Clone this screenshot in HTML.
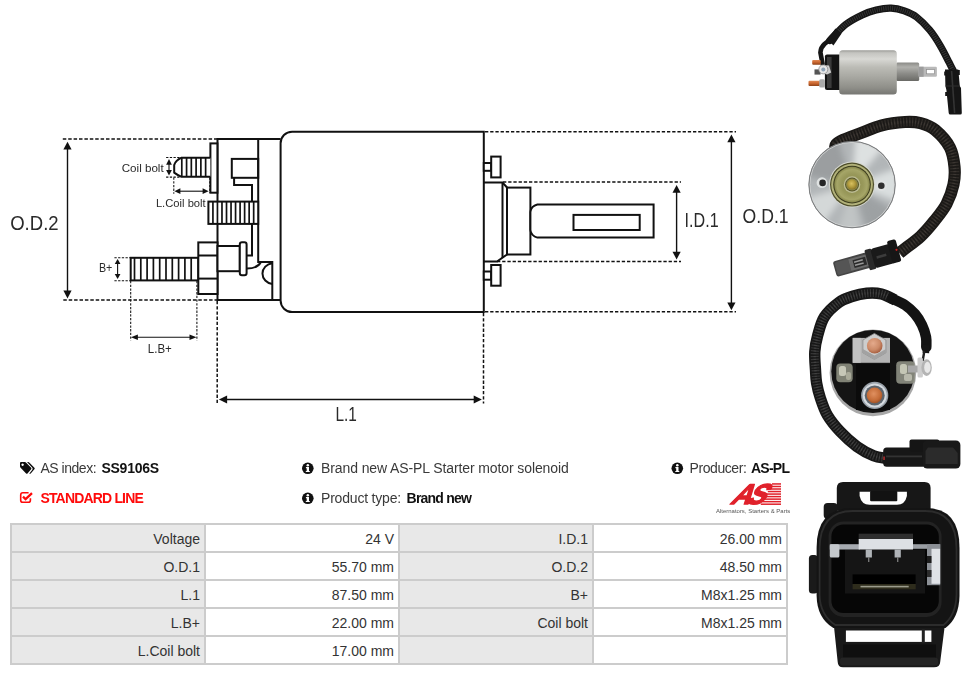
<!DOCTYPE html>
<html lang="en">
<head>
<meta charset="utf-8">
<title>SS9106S - AS-PL Starter motor solenoid</title>
<style>
*{box-sizing:border-box;margin:0;padding:0}
html,body{width:970px;height:675px;background:#fff;overflow:hidden}
body{position:relative;font-family:"Liberation Sans",sans-serif;color:#333;font-size:14px}
.diagram{position:absolute;left:0;top:0;will-change:transform}
.photos{position:absolute;left:800px;top:0}
.infosvg{position:absolute;left:0;top:450px;will-change:transform}
table.spec{position:absolute;left:10px;top:523px;width:778px;border-collapse:separate;border-spacing:0;table-layout:fixed;border-left:2px solid #ccc;border-top:2px solid #ccc}
table.spec td{height:28px;border-right:2px solid #ccc;border-bottom:2px solid #ccc;text-align:right;padding:2px 4px 0 0;font-size:14px;color:#333;width:194px;background:#fff;line-height:24px;vertical-align:top;white-space:nowrap;overflow:hidden}
table.spec td.l{background:#e8e8e8}
</style>
</head>
<body>
<svg class="diagram" width="800" height="440" viewBox="0 0 800 440">
<g fill="none" stroke="#111" stroke-width="2" stroke-linejoin="miter">
<g stroke-width="1.7" stroke-dasharray="3.5 1.9">
<line x1="62.8" y1="139" x2="217" y2="139"/>
<line x1="63.3" y1="300" x2="217" y2="300"/>
</g>
<g stroke-width="1.5" stroke-dasharray="3.3 1.9">
<line x1="217.2" y1="301" x2="217.2" y2="403.5"/>
<line x1="483.5" y1="313" x2="483.5" y2="403.6"/>
<line x1="485" y1="131.8" x2="736" y2="131.8"/>
<line x1="485" y1="311.8" x2="736" y2="311.8"/>
<line x1="503" y1="182" x2="681" y2="182"/>
<line x1="497" y1="261.6" x2="681" y2="261.6"/>
</g>
<g stroke-width="1.05" stroke-dasharray="2.3 1.4">
<line x1="166.1" y1="157.5" x2="181" y2="157.5"/>
<line x1="166.1" y1="177.1" x2="181" y2="177.1"/>
<line x1="173.8" y1="177.5" x2="173.8" y2="193.7"/>
<line x1="209.8" y1="177.5" x2="209.8" y2="193"/>
<line x1="114.4" y1="257.7" x2="130.5" y2="257.7"/>
<line x1="114.4" y1="280.8" x2="130.5" y2="280.8"/>
<line x1="130.7" y1="281" x2="130.7" y2="340.5"/>
<line x1="196.9" y1="281" x2="196.9" y2="340.5"/>
</g>
<path d="M483.8 131.7 H292.1 A11.5 11.5 0 0 0 280.6 143.2 V300.6 A11.5 11.5 0 0 0 292.1 312.1 H483.8 Z" fill="#fff"/>
<path d="M280.6 139.1 H217.5 V299.9 H280.6"/>
<path d="M258.2 139.1 V262 H272.3 V299.9"/>
<path d="M272.3 263.2 A10.9 10.4 0 0 0 272.3 283.9"/>
<rect x="210.4" y="143.4" width="7" height="49.3" fill="#fff"/>
<path d="M210.4 157.7 H181.6 Q175.5 160.5 174.2 165 V172.6 Q177 174.8 181.6 176.8 H210.4" fill="#fff"/>
<g stroke-width="1.7">
<line x1="181.8" y1="157.8" x2="181.8" y2="176.7"/>
<line x1="186.57" y1="157.8" x2="186.57" y2="176.7"/>
<line x1="191.33" y1="157.8" x2="191.33" y2="176.7"/>
<line x1="196.10" y1="157.8" x2="196.10" y2="176.7"/>
<line x1="200.87" y1="157.8" x2="200.87" y2="176.7"/>
<line x1="205.63" y1="157.8" x2="205.63" y2="176.7"/>
</g>
<rect x="231.8" y="158.9" width="26.4" height="18.9"/>
<path d="M234.1 177.8 V185 H252 V255.5 H246.6"/>
<rect x="208.4" y="201.6" width="49.8" height="22.3" fill="#fff"/>
<g stroke-width="1.7">
<line x1="212.93" y1="201.6" x2="212.93" y2="223.9"/>
<line x1="217.45" y1="201.6" x2="217.45" y2="223.9"/>
<line x1="221.98" y1="201.6" x2="221.98" y2="223.9"/>
<line x1="226.51" y1="201.6" x2="226.51" y2="223.9"/>
<line x1="231.04" y1="201.6" x2="231.04" y2="223.9"/>
<line x1="235.56" y1="201.6" x2="235.56" y2="223.9"/>
<line x1="240.09" y1="201.6" x2="240.09" y2="223.9"/>
<line x1="244.62" y1="201.6" x2="244.62" y2="223.9"/>
<line x1="249.15" y1="201.6" x2="249.15" y2="223.9"/>
<line x1="253.67" y1="201.6" x2="253.67" y2="223.9"/>
</g>
<rect x="130.7" y="257.8" width="67.6" height="22.6" fill="#fff"/>
<g stroke-width="1.7">
<line x1="134.50" y1="257.8" x2="134.50" y2="280.4"/>
<line x1="140.80" y1="257.8" x2="140.80" y2="280.4"/>
<line x1="147.10" y1="257.8" x2="147.10" y2="280.4"/>
<line x1="153.40" y1="257.8" x2="153.40" y2="280.4"/>
<line x1="159.70" y1="257.8" x2="159.70" y2="280.4"/>
<line x1="166.00" y1="257.8" x2="166.00" y2="280.4"/>
<line x1="172.30" y1="257.8" x2="172.30" y2="280.4"/>
<line x1="178.60" y1="257.8" x2="178.60" y2="280.4"/>
<line x1="184.90" y1="257.8" x2="184.90" y2="280.4"/>
<line x1="191.20" y1="257.8" x2="191.20" y2="280.4"/>
</g>
<rect x="198.3" y="242.4" width="19.2" height="51.6" fill="#fff"/>
<line x1="198.3" y1="255.5" x2="217.5" y2="255.5"/>
<line x1="198.3" y1="278.6" x2="217.5" y2="278.6"/>
<rect x="217.5" y="246" width="22.3" height="25.2" fill="#fff"/>
<rect x="239.8" y="242.2" width="6.8" height="33.1" rx="2.2" fill="#fff"/>
<path d="M246.6 268.5 Q257.5 268.6 261 262"/>
<rect x="483.8" y="163" width="7.4" height="7.8" fill="#fff"/>
<rect x="491.2" y="156.6" width="9.4" height="20.8" fill="#fff"/>
<rect x="483.8" y="271.5" width="7.4" height="8.2" fill="#fff"/>
<rect x="491.2" y="265" width="9.4" height="20.7" fill="#fff"/>
<path d="M483.8 182.6 H502.5 L507 187.5 V254.5 L497 261.5 H483.8"/>
<line x1="502.5" y1="182.6" x2="502.5" y2="258"/>
<rect x="507" y="187.6" width="23.4" height="66.9" fill="#fff"/>
<path d="M653.6 204.5 H537.4 Q531 206 530.4 212 V230 Q531 236 537.4 237.6 H653.6 Z" fill="#fff"/>
<rect x="573.5" y="214.9" width="66.2" height="15.1"/>
</g>
<line x1="67.5" y1="148.60000000000002" x2="67.5" y2="291.59999999999997" stroke="#111" stroke-width="1.4"/><polygon points="67.5,141.8 63.4,149.60000000000002 71.6,149.60000000000002" fill="#111" stroke="none"/><polygon points="67.5,298.4 63.4,290.59999999999997 71.6,290.59999999999997" fill="#111" stroke="none"/>
<line x1="731.4" y1="141.20000000000002" x2="731.4" y2="303.5" stroke="#111" stroke-width="1.4"/><polygon points="731.4,134.4 727.3,142.20000000000002 735.5,142.20000000000002" fill="#111" stroke="none"/><polygon points="731.4,310.3 727.3,302.5 735.5,302.5" fill="#111" stroke="none"/>
<line x1="676.6" y1="191.70000000000002" x2="676.6" y2="252.7" stroke="#111" stroke-width="1.4"/><polygon points="676.6,184.9 672.5,192.70000000000002 680.7,192.70000000000002" fill="#111" stroke="none"/><polygon points="676.6,259.5 672.5,251.7 680.7,251.7" fill="#111" stroke="none"/>
<line x1="226.1" y1="399.5" x2="474.7" y2="399.5" stroke="#111" stroke-width="1.4"/><polygon points="218.9,399.5 227.1,395.5 227.1,403.5" fill="#111" stroke="none"/><polygon points="481.9,399.5 473.7,395.5 473.7,403.5" fill="#111" stroke="none"/>
<line x1="136.9" y1="337.3" x2="190.5" y2="337.3" stroke="#111" stroke-width="1.1"/><polygon points="130.9,337.3 137.9,334.5 137.9,340.1" fill="#111" stroke="none"/><polygon points="196.5,337.3 189.5,334.5 189.5,340.1" fill="#111" stroke="none"/>
<line x1="179.4" y1="191.2" x2="203.6" y2="191.2" stroke="#111" stroke-width="1.1"/><polygon points="174.4,191.2 180.4,188.29999999999998 180.4,194.1" fill="#111" stroke="none"/><polygon points="208.6,191.2 202.6,188.29999999999998 202.6,194.1" fill="#111" stroke="none"/>
<line x1="169" y1="163.7" x2="169" y2="170.9" stroke="#111" stroke-width="1.1"/><polygon points="169,159.1 166.1,164.7 171.9,164.7" fill="#111" stroke="none"/><polygon points="169,175.5 166.1,169.9 171.9,169.9" fill="#111" stroke="none"/>
<line x1="117.6" y1="263.1" x2="117.6" y2="275.1" stroke="#111" stroke-width="1.1"/><polygon points="117.6,259.1 114.75,264.1 120.44999999999999,264.1" fill="#111" stroke="none"/><polygon points="117.6,279.1 114.75,274.1 120.44999999999999,274.1" fill="#111" stroke="none"/>
<g font-family="'Liberation Sans', sans-serif" fill="#2a2a2a">
<text x="10.2" y="230.1" font-size="20" textLength="48.4" lengthAdjust="spacingAndGlyphs">O.D.2</text>
<text x="742.6" y="222.6" font-size="19.8" textLength="46" lengthAdjust="spacingAndGlyphs">O.D.1</text>
<text x="684.6" y="227.3" font-size="19.4" textLength="34" lengthAdjust="spacingAndGlyphs">I.D.1</text>
<text x="335.4" y="420.5" font-size="19.6" textLength="21.4" lengthAdjust="spacingAndGlyphs">L.1</text>
<text x="121.7" y="172.2" font-size="11.6" textLength="42" lengthAdjust="spacingAndGlyphs">Coil bolt</text>
<text x="155.9" y="207" font-size="10.8" textLength="49.8" lengthAdjust="spacingAndGlyphs">L.Coil bolt</text>
<text x="98.9" y="272.4" font-size="13.3" textLength="13.4" lengthAdjust="spacingAndGlyphs">B+</text>
<text x="147.8" y="353.3" font-size="12.4" textLength="24" lengthAdjust="spacingAndGlyphs">L.B+</text>
</g>
</svg>
<svg class="infosvg" width="800" height="70" viewBox="0 450 800 70" font-family="'Liberation Sans', sans-serif" font-size="14">
<text x="40.4" y="473" textLength="56.2" lengthAdjust="spacing" fill="#3a3a3a">AS index:</text>
<text x="101.4" y="473" textLength="57.8" lengthAdjust="spacing" fill="#111" font-weight="bold">SS9106S</text>
<text x="40.4" y="502.6" textLength="103.4" lengthAdjust="spacing" fill="#ff0a0a" font-weight="bold">STANDARD LINE</text>
<text x="321" y="473" textLength="247.8" lengthAdjust="spacing" fill="#3a3a3a">Brand new AS-PL Starter motor solenoid</text>
<text x="321" y="502.6" textLength="80.2" lengthAdjust="spacing" fill="#3a3a3a">Product type:</text>
<text x="406.6" y="502.6" textLength="65.2" lengthAdjust="spacing" fill="#111" font-weight="bold">Brand new</text>
<text x="689.6" y="473" textLength="57.2" lengthAdjust="spacing" fill="#3a3a3a">Producer:</text>
<text x="750.9" y="473" textLength="39.1" lengthAdjust="spacing" fill="#111" font-weight="bold">AS-PL</text>
<g transform="translate(307.8,468.3)"><circle r="5.8" fill="#111"/><circle cx="0" cy="-3" r="1.25" fill="#fff"/><path d="M-1.9 -1.3 H1.2 V2.6 H2 V3.8 H-2 V2.6 H-1.1 V-0.1 H-1.9 Z" fill="#fff"/></g>
<g transform="translate(307.8,498.3)"><circle r="5.8" fill="#111"/><circle cx="0" cy="-3" r="1.25" fill="#fff"/><path d="M-1.9 -1.3 H1.2 V2.6 H2 V3.8 H-2 V2.6 H-1.1 V-0.1 H-1.9 Z" fill="#fff"/></g>
<g transform="translate(677.3,468.3)"><circle r="5.8" fill="#111"/><circle cx="0" cy="-3" r="1.25" fill="#fff"/><path d="M-1.9 -1.3 H1.2 V2.6 H2 V3.8 H-2 V2.6 H-1.1 V-0.1 H-1.9 Z" fill="#fff"/></g>
<g transform="translate(20,462) scale(1,1.05)" fill="#0c0c0c"><path d="M0 1 Q0 0 1 0 H4.8 Q5.6 0 6.2 0.6 L11.1 5.5 Q11.8 6.2 11.1 6.9 L7.5 10.9 Q6.8 11.6 6.1 10.9 L0.6 5.5 Q0 4.9 0 4.1 Z M2.6 1.4 A1.2 1.2 0 1 0 2.61 1.4 Z" fill-rule="evenodd"/><path d="M7 0 H8.1 Q8.9 0 9.5 0.6 L14.4 5.4 Q15.2 6.2 14.4 7 L10.7 10.9 Q10 11.6 9.2 11.1 L12.3 7.4 Q13.1 6.3 12.3 5.4 Z"/></g>
<g fill="none" stroke="#ff0a0a"><path d="M28.6 492.8 H22.8 Q20.7 492.8 20.7 494.9 V500.2 Q20.7 502.3 22.8 502.3 H28.3 Q30.4 502.3 30.4 500.2 V498.2" stroke-width="1.6"/><path d="M23 496.6 L25.6 499.2 L32 493.2" stroke-width="2.3"/></g>
<g fill="#e0212b">
<g transform="translate(729.6,504.4) skewX(-33)"><text x="0" y="0" font-size="28.5" font-weight="bold" stroke="#e0212b" stroke-width="1.5" stroke-linejoin="round" letter-spacing="-4.2" textLength="29.5" lengthAdjust="spacingAndGlyphs" fill="#e0212b">AS</text></g>
<rect x="772.0" y="483.20" width="9.0" height="1.5"/>
<rect x="770.6" y="485.73" width="10.4" height="1.5"/>
<rect x="769.2" y="488.26" width="11.8" height="1.5"/>
<rect x="767.8" y="490.79" width="13.2" height="1.5"/>
<rect x="766.4" y="493.32" width="14.6" height="1.5"/>
<rect x="765.0" y="495.85" width="16.0" height="1.5"/>
<rect x="763.6" y="498.38" width="17.4" height="1.5"/>
<rect x="762.2" y="500.91" width="18.8" height="1.5"/>
<rect x="760.8" y="503.44" width="20.2" height="1.5"/>
</g>
<text x="716" y="512.7" font-size="5.9" fill="#555" textLength="74.3" lengthAdjust="spacingAndGlyphs">Alternators, Starters &amp; Parts</text>
</svg>
<table class="spec">
<tr><td class="l">Voltage</td><td>24 V</td><td class="l">I.D.1</td><td>26.00 mm</td></tr>
<tr><td class="l">O.D.1</td><td>55.70 mm</td><td class="l">O.D.2</td><td>48.50 mm</td></tr>
<tr><td class="l">L.1</td><td>87.50 mm</td><td class="l">B+</td><td>M8x1.25 mm</td></tr>
<tr><td class="l">L.B+</td><td>22.00 mm</td><td class="l">Coil bolt</td><td>M8x1.25 mm</td></tr>
<tr><td class="l">L.Coil bolt</td><td>17.00 mm</td><td class="l"></td><td></td></tr>
</table>
<svg class="photos" width="170" height="675" viewBox="800 0 170 675">
<defs>
<linearGradient id="cyl" x1="0" y1="0" x2="0" y2="1">
<stop offset="0" stop-color="#9a9a96"/><stop offset="0.06" stop-color="#c4c4c0"/><stop offset="0.2" stop-color="#d8d8d4"/><stop offset="0.38" stop-color="#bcbcb6"/><stop offset="0.6" stop-color="#a8a8a2"/><stop offset="0.85" stop-color="#8e8e88"/><stop offset="1" stop-color="#767672"/>
</linearGradient>
<linearGradient id="plg" x1="0" y1="0" x2="0" y2="1">
<stop offset="0" stop-color="#8a8a86"/><stop offset="0.25" stop-color="#b0b0ac"/><stop offset="0.6" stop-color="#8c8c88"/><stop offset="1" stop-color="#6a6a66"/>
</linearGradient>
<linearGradient id="copper" x1="0" y1="0" x2="0" y2="1">
<stop offset="0" stop-color="#e08a55"/><stop offset="0.5" stop-color="#c9652e"/><stop offset="1" stop-color="#8e4218"/>
</linearGradient>
<radialGradient id="cu2" cx="0.4" cy="0.35" r="0.7">
<stop offset="0" stop-color="#e4aa8c"/><stop offset="0.6" stop-color="#cc8a68"/><stop offset="1" stop-color="#a0583a"/>
</radialGradient>
<clipPath id="discclip"><circle cx="852.05" cy="184.6" r="42.6"/></clipPath>
<radialGradient id="olive" cx="0.5" cy="0.5" r="0.5">
<stop offset="0" stop-color="#8a8a4a"/><stop offset="0.6" stop-color="#98985a"/><stop offset="0.85" stop-color="#a6a668"/><stop offset="1" stop-color="#86864a"/>
</radialGradient>
<radialGradient id="brass" cx="0.45" cy="0.4" r="0.6">
<stop offset="0" stop-color="#d8c060"/><stop offset="0.6" stop-color="#b09a3c"/><stop offset="1" stop-color="#8a7428"/>
</radialGradient>
<filter id="blur3" x="-20%" y="-20%" width="140%" height="140%"><feGaussianBlur stdDeviation="3"/></filter>
<filter id="blur1" x="-20%" y="-20%" width="140%" height="140%"><feGaussianBlur stdDeviation="0.8"/></filter>
<radialGradient id="cu3" cx="0.45" cy="0.4" r="0.7">
<stop offset="0" stop-color="#e09060"/><stop offset="0.6" stop-color="#c46c38"/><stop offset="1" stop-color="#8e4620"/>
</radialGradient>
</defs>

<g id="photo1">
<!-- cable -->
<path d="M822.6 64 L820.4 52.5 Q820.6 47.5 824.5 44 L831 38.8" fill="none" stroke="#151515" stroke-width="4.6" stroke-linecap="round" stroke-linejoin="round"/>
<path d="M829.8 40.5 C832.4 37.8 840.2 28.8 845.6 24.5 C851.0 20.2 857.1 17.3 862.2 14.9 C867.3 12.5 871.4 11.1 876.2 10.0 C881.0 8.9 886.4 8.0 891.1 8.2 C895.8 8.3 900.1 9.4 904.3 10.9 C908.5 12.4 912.3 13.8 916.5 17.0 C920.7 20.2 925.8 25.3 929.7 30.1 C933.7 34.9 937.0 40.2 940.2 45.6 C943.4 51.0 946.9 58.1 949.0 62.2 C951.1 66.3 952.3 68.7 953.0 70.0" fill="none" stroke="#161616" stroke-width="7.2" stroke-linecap="round"/>
<path d="M829.8 40.5 C832.4 37.8 840.2 28.8 845.6 24.5 C851.0 20.2 857.1 17.3 862.2 14.9 C867.3 12.5 871.4 11.1 876.2 10.0 C881.0 8.9 886.4 8.0 891.1 8.2 C895.8 8.3 900.1 9.4 904.3 10.9 C908.5 12.4 912.3 13.8 916.5 17.0 C920.7 20.2 925.8 25.3 929.7 30.1 C933.7 34.9 937.0 40.2 940.2 45.6 C943.4 51.0 946.9 58.1 949.0 62.2 C951.1 66.3 952.3 68.7 953.0 70.0" fill="none" stroke="#363636" stroke-width="4.6" stroke-dasharray="0.9 1.3"/>
<path d="M827.6 39.2 L835.5 28.6 L841.6 33.6 L833.4 45.6 Z" fill="#161616"/>
<!-- black cap -->
<path d="M824.9 56.4 Q824.9 54.4 827 54.4 H841 V90.1 H827 Q824.9 90.1 824.9 88 Z" fill="#131313"/>
<rect x="827" y="57" width="4.6" height="31" fill="#3a3a3a"/>
<!-- copper bolts -->
<rect x="812.2" y="59.9" width="8.5" height="4.8" rx="1" fill="url(#copper)"/>
<rect x="808.5" y="80.8" width="11.5" height="5.2" rx="1" fill="url(#copper)"/>
<rect x="814.5" y="69.4" width="6" height="5.2" fill="#555"/>
<rect x="819.2" y="79.3" width="5.7" height="8.3" rx="1.5" fill="#aaa"/>
<path d="M821 65 L829 65.5 L831.2 72.5 L827 74.5 L821 73 Z" fill="#cfcfcf"/>
<circle cx="823.3" cy="69.4" r="4.5" fill="#e6e6e6" stroke="#8c8c8c" stroke-width="0.8"/>
<circle cx="823.3" cy="69.4" r="2" fill="#8fa4b8"/>
<!-- plunger -->
<rect x="896" y="62.5" width="23.2" height="18.4" rx="1.5" fill="url(#plg)"/>
<rect x="918.6" y="66.7" width="18.3" height="10.1" rx="1.2" fill="#b9b9b9"/>
<rect x="918.6" y="66.7" width="5" height="10.1" fill="#9c9c9c"/>
<rect x="926.6" y="69.6" width="7.9" height="4.2" fill="#fff" stroke="#8e8e8e" stroke-width="0.7"/>
<!-- body -->
<rect x="839.2" y="50.2" width="57.6" height="44.4" rx="3.5" fill="url(#cyl)"/>
<!-- connector -->
<path d="M945 69.4 H958.3 L959.8 86 L961 88 L961.8 113 Q961.8 114.5 960.3 114.5 H950.3 Q948.8 114.5 948.7 113 L946.4 90 L945.4 86 Z" fill="#151515"/>
<path d="M951.6 71 L954.6 113" stroke="#343434" stroke-width="1.6" fill="none"/>
<path d="M945.6 86 H959.8" stroke="#2e2e2e" stroke-width="1" fill="none"/>
<rect x="944.2" y="71.5" width="2" height="4" fill="#151515"/>
<rect x="945.2" y="92" width="2" height="4" fill="#151515"/>
<rect x="958" y="70" width="1.8" height="5" fill="#151515"/>
</g>

<g id="photo2">
<!-- cable -->
<path d="M838.0 150.0 C831.4 145.8 838.2 142.0 843.2 139.8 C848.2 137.6 852.2 136.3 858.7 133.9 C865.2 131.5 874.2 127.4 881.9 125.4 C889.6 123.4 898.6 122.4 905.0 122.0 C911.4 121.6 915.5 121.8 920.5 123.1 C925.5 124.4 930.3 125.9 935.2 130.0 C940.1 134.1 946.7 141.3 949.9 147.5 C953.1 153.7 953.9 160.7 954.5 166.9 C955.1 173.1 954.8 178.4 953.5 184.6 C952.2 190.8 949.7 197.9 946.5 204.0 C943.3 210.1 938.7 215.5 934.4 220.9 C930.1 226.3 925.8 231.5 920.5 236.4 C915.2 241.3 905.7 248.0 899.5 253.0" fill="none" stroke="#1b1917" stroke-width="12.2" stroke-linecap="butt"/>
<path d="M838.0 150.0 C831.4 145.8 838.2 142.0 843.2 139.8 C848.2 137.6 852.2 136.3 858.7 133.9 C865.2 131.5 874.2 127.4 881.9 125.4 C889.6 123.4 898.6 122.4 905.0 122.0 C911.4 121.6 915.5 121.8 920.5 123.1 C925.5 124.4 930.3 125.9 935.2 130.0 C940.1 134.1 946.7 141.3 949.9 147.5 C953.1 153.7 953.9 160.7 954.5 166.9 C955.1 173.1 954.8 178.4 953.5 184.6 C952.2 190.8 949.7 197.9 946.5 204.0 C943.3 210.1 938.7 215.5 934.4 220.9 C930.1 226.3 925.8 231.5 920.5 236.4 C915.2 241.3 905.7 248.0 899.5 253.0" fill="none" stroke="#302c28" stroke-width="9" stroke-dasharray="1.3 1.7"/>
<path d="M838.0 150.0 C831.4 145.8 838.2 142.0 843.2 139.8 C848.2 137.6 852.2 136.3 858.7 133.9 C865.2 131.5 874.2 127.4 881.9 125.4 C889.6 123.4 898.6 122.4 905.0 122.0 C911.4 121.6 915.5 121.8 920.5 123.1 C925.5 124.4 930.3 125.9 935.2 130.0 C940.1 134.1 946.7 141.3 949.9 147.5 C953.1 153.7 953.9 160.7 954.5 166.9 C955.1 173.1 954.8 178.4 953.5 184.6 C952.2 190.8 949.7 197.9 946.5 204.0 C943.3 210.1 938.7 215.5 934.4 220.9 C930.1 226.3 925.8 231.5 920.5 236.4 C915.2 241.3 905.7 248.0 899.5 253.0" fill="none" stroke="#403b36" stroke-width="3" stroke-dasharray="1.3 1.7" opacity="0.7"/>
<!-- disc -->
<circle cx="852.05" cy="184.6" r="43.4" fill="#8a8c8e"/>
<circle cx="852.05" cy="184.6" r="42.6" fill="#b2b6b8"/>
<g clip-path="url(#discclip)"><g filter="url(#blur3)">
<path d="M852 184.6 L856 130 L890 140 Z" fill="#e2e6e6" opacity="0.9"/>
<path d="M852 184.6 L905 165 L905 205 Z" fill="#dfe3e3" opacity="0.9"/>
<path d="M852 184.6 L800 200 L815 235 Z" fill="#d8dcdc" opacity="0.9"/>
<path d="M852 184.6 L800 175 L812 140 L835 130 Z" fill="#969a9c" opacity="0.85"/>
<path d="M852 184.6 L900 215 L870 240 Z" fill="#9a9ea0" opacity="0.85"/>
<path d="M852 184.6 L835 240 L862 240 Z" fill="#c4c8c8" opacity="0.8"/>
</g></g>
<circle cx="852.05" cy="184.6" r="42.2" fill="none" stroke="#d4d6d6" stroke-width="1" opacity="0.8"/>
<circle cx="852.05" cy="184.6" r="43.2" fill="none" stroke="#77797b" stroke-width="0.9"/>
<!-- holes -->
<circle cx="822" cy="182.7" r="5.4" fill="#dfe2e2"/><circle cx="822.6" cy="182.9" r="3.3" fill="#262626"/>
<circle cx="881.7" cy="185.4" r="5.4" fill="#dfe2e2"/><circle cx="881.3" cy="185.8" r="3.3" fill="#303030"/>
<!-- inner -->
<circle cx="852.05" cy="184.6" r="23" fill="#d6d8d0"/>
<circle cx="852.05" cy="184.6" r="22" fill="#4e4e2a"/>
<circle cx="852.05" cy="184.6" r="20.8" fill="#b2b27a"/>
<circle cx="852.05" cy="184.6" r="18.8" fill="#3c3c1e"/>
<circle cx="852.05" cy="184.6" r="17.8" fill="url(#olive)"/>
<circle cx="852.05" cy="184.6" r="8.3" fill="#bcbc94"/>
<circle cx="852.05" cy="184.6" r="7" fill="#58562a"/>
<circle cx="852.05" cy="184.6" r="6" fill="#8c8a4a"/>
<circle cx="852.05" cy="184.6" r="5" fill="url(#brass)"/>
<!-- connector -->
<g transform="translate(1,1.8) rotate(-15.5 868 258)">
<rect x="832.5" y="250" width="40" height="16" rx="2.5" fill="#454545"/>
<rect x="834" y="251.5" width="14" height="13" rx="1.5" fill="#555"/>
<rect x="848" y="252" width="20" height="12" fill="#6a6a6a"/>
<rect x="852" y="254" width="13" height="8" fill="#2a2a2a"/>
<rect x="853" y="255.5" width="9" height="1.6" fill="#999"/>
<rect x="853" y="258.8" width="9" height="1.6" fill="#999"/>
<rect x="866" y="247.5" width="7" height="21" rx="1.5" fill="#2a2a2a"/>
<rect x="872" y="248" width="22" height="20" rx="3" fill="#1a1a1a"/>
<rect x="890" y="245" width="9" height="23" rx="2" fill="#161616"/>
<rect x="876" y="256.5" width="10" height="2.5" fill="#3c3c3c"/>
</g>
<circle cx="896.5" cy="249.8" r="1.1" fill="#c22"/>
</g>

<g id="photo3">
<!-- cable loop -->
<path d="M895.0 300.0 C892.8 299.0 886.2 295.1 881.5 294.0 C876.8 292.9 871.6 292.9 866.7 293.3 C861.8 293.7 856.5 295.0 851.9 296.5 C847.2 298.0 843.4 299.1 838.8 302.5 C834.2 305.9 827.9 311.5 824.4 316.9 C820.9 322.3 819.4 329.3 817.8 335.1 C816.2 340.9 815.2 345.9 814.8 351.7 C814.4 357.5 815.2 364.8 815.5 370.0 C815.8 375.2 815.8 378.4 816.6 383.0 C817.4 387.6 818.4 392.1 820.2 397.5 C822.0 402.9 824.1 409.7 827.5 415.4 C830.9 421.1 835.4 426.5 840.3 431.7 C845.2 436.9 851.5 442.6 857.0 446.6 C862.5 450.6 868.9 453.8 873.6 455.7 C878.3 457.6 883.1 457.8 885.0 458.2" fill="none" stroke="#171717" stroke-width="11.4" stroke-linecap="butt"/>
<path d="M895.0 300.0 C892.8 299.0 886.2 295.1 881.5 294.0 C876.8 292.9 871.6 292.9 866.7 293.3 C861.8 293.7 856.5 295.0 851.9 296.5 C847.2 298.0 843.4 299.1 838.8 302.5 C834.2 305.9 827.9 311.5 824.4 316.9 C820.9 322.3 819.4 329.3 817.8 335.1 C816.2 340.9 815.2 345.9 814.8 351.7 C814.4 357.5 815.2 364.8 815.5 370.0 C815.8 375.2 815.8 378.4 816.6 383.0 C817.4 387.6 818.4 392.1 820.2 397.5 C822.0 402.9 824.1 409.7 827.5 415.4 C830.9 421.1 835.4 426.5 840.3 431.7 C845.2 436.9 851.5 442.6 857.0 446.6 C862.5 450.6 868.9 453.8 873.6 455.7 C878.3 457.6 883.1 457.8 885.0 458.2" fill="none" stroke="#353535" stroke-width="8" stroke-dasharray="1.2 1.6"/>
<path d="M895.0 300.0 C892.8 299.0 886.2 295.1 881.5 294.0 C876.8 292.9 871.6 292.9 866.7 293.3 C861.8 293.7 856.5 295.0 851.9 296.5 C847.2 298.0 843.4 299.1 838.8 302.5 C834.2 305.9 827.9 311.5 824.4 316.9 C820.9 322.3 819.4 329.3 817.8 335.1 C816.2 340.9 815.2 345.9 814.8 351.7 C814.4 357.5 815.2 364.8 815.5 370.0 C815.8 375.2 815.8 378.4 816.6 383.0 C817.4 387.6 818.4 392.1 820.2 397.5 C822.0 402.9 824.1 409.7 827.5 415.4 C830.9 421.1 835.4 426.5 840.3 431.7 C845.2 436.9 851.5 442.6 857.0 446.6 C862.5 450.6 868.9 453.8 873.6 455.7 C878.3 457.6 883.1 457.8 885.0 458.2" fill="none" stroke="#484848" stroke-width="2.5" stroke-dasharray="1.2 1.6" opacity="0.6"/>
<!-- heat shrink part -->
<path d="M892.0 298.5 C894.2 299.6 901.2 302.4 905.0 305.0 C908.8 307.6 912.2 310.7 915.0 314.0 C917.8 317.3 920.2 321.2 922.0 325.0 C923.8 328.8 925.3 333.3 926.0 337.0 C926.7 340.7 926.2 345.3 926.3 347.0" fill="none" stroke="#131313" stroke-width="10.5" stroke-linecap="round"/>
<path d="M926.3 345 L925.8 353" fill="none" stroke="#151515" stroke-width="6.6" stroke-linecap="butt"/>
<path d="M924.2 352 L922.8 360" fill="none" stroke="#222" stroke-width="2.4" stroke-linecap="round"/>
<!-- disc -->
<circle cx="872.9" cy="372.9" r="43.3" fill="#a8a8a8"/>
<circle cx="872.9" cy="371.5" r="41.6" fill="#141414"/>
<!-- side terminals -->
<rect x="836.3" y="363.5" width="16.4" height="18.7" rx="4" fill="#8c8e80" opacity="0.9"/>
<rect x="839" y="366" width="7" height="10" rx="2.5" fill="#d4d5c4" opacity="0.85"/>
<rect x="846" y="372" width="5" height="8" rx="2" fill="#b4b5a4" opacity="0.8"/>
<rect x="896.2" y="361.2" width="18.7" height="22.6" rx="4" fill="#8e9084" opacity="0.9"/>
<rect x="900" y="364" width="7" height="10" rx="2.5" fill="#d0d1c0" opacity="0.85"/>
<rect x="904" y="374" width="8" height="7" rx="2" fill="#c4c5b8" opacity="0.8"/>
<!-- right screw -->
<rect x="908" y="365.5" width="14" height="7" fill="#a8a8a8"/>
<rect x="917.5" y="357.5" width="5.4" height="20" rx="1.5" fill="#cdcdcd"/>
<ellipse cx="926.6" cy="367.6" rx="5.2" ry="8.4" fill="#b4b4b4"/>
<ellipse cx="927.4" cy="367.4" rx="3.2" ry="5.6" fill="#e8e8e8"/>
<!-- gray plate -->
<rect x="852.7" y="337.9" width="37.3" height="24.9" fill="#b4b4b4"/>
<rect x="852.7" y="337.9" width="8" height="24.9" fill="#c2c2c2"/>
<!-- top nut -->
<polygon points="874.4,333.4 885.9,340 885.9,352.8 874.4,359.4 862.9,352.8 862.9,340" fill="#cdcdcd" stroke="#8c8c8c" stroke-width="0.8"/>
<polygon points="862.9,352.8 874.4,359.4 885.9,352.8 885.9,349 874.4,355.4 862.9,349" fill="#a2a2a2"/>
<circle cx="874.7" cy="345.7" r="7.8" fill="url(#cu2)"/>
<!-- bottom terminal -->
<rect x="856" y="364" width="34" height="46" fill="#0b0b0b"/>
<circle cx="874.7" cy="395.4" r="13.6" fill="#98a0a8"/>
<circle cx="874.7" cy="395.4" r="12" fill="#d5dadf"/>
<circle cx="874.7" cy="395.4" r="10" fill="#5c646c"/>
<circle cx="874.5" cy="395.4" r="7.8" fill="url(#cu3)"/>
<!-- connector -->
<rect x="883.2" y="447.5" width="43" height="19.3" rx="3.5" fill="#171717"/>
<rect x="886" y="455.5" width="36" height="1.8" fill="#333"/>
<rect x="909.5" y="439.6" width="29.8" height="12" rx="2" fill="#151515"/>
<rect x="922.7" y="440.5" width="37.7" height="28" rx="4.5" fill="#191919"/>
<path d="M928 447.5 H953 L957.7 453 V464 H925.5 V451 Z" fill="#2b2b2b"/>
<rect x="883.4" y="456.5" width="1.3" height="3.5" fill="#c33"/>
</g>

<g id="photo4">
<!-- top part -->
<path d="M836.8 510 V488 Q836.8 482 843 482 H924.6 Q930.6 482 930.6 488 V510 Z" fill="#171717"/>
<path d="M859.6 491.7 H906.9 V496 Q905 504.8 897 504.8 H869.6 Q861.5 504.8 859.6 496 Z" fill="#fff"/>
<rect x="870.1" y="491" width="27.2" height="10.3" rx="1" fill="#121212"/>
<!-- side bumps -->
<rect x="823.7" y="503" width="14" height="16" rx="4" fill="#181818"/>
<rect x="808.9" y="555" width="9" height="38.5" rx="3.5" fill="#1a1a1a"/>
<!-- bottom part -->
<path d="M833.3 620 H945.5 L940.2 662 Q940 667.3 934 667.3 H843 Q837.9 667.3 837.7 662 Z" fill="#191919"/>
<rect x="845.9" y="630.5" width="85.5" height="11.4" fill="#fff"/>
<rect x="921.8" y="629" width="3" height="14" fill="#222"/>
<rect x="843" y="644.5" width="93" height="14" fill="#0f0f0f"/>
<rect x="840" y="657.5" width="98" height="8" rx="3" fill="#242424"/>
<!-- main body -->
<path d="M816.6 548 Q816.6 508 852 508 H926 Q959.5 508 959.5 548 V596 Q959 618 945.5 628 H833.3 Q817 618 816.6 596 Z" fill="#141414"/>
<path d="M819.6 549 Q819.6 511 853 511 H925 Q956.5 511 956.5 549 V595 Q956 615 943.5 625 H835.3 Q820 615 819.6 595 Z" fill="none" stroke="#2c2c2c" stroke-width="1.8"/>
<!-- cavity -->
<rect x="828.6" y="521.5" width="113" height="95.5" rx="15" fill="#232323"/>
<rect x="831.4" y="524.5" width="107.4" height="88.5" rx="12" fill="#060606"/>
<!-- inner block -->
<rect x="845" y="549.5" width="80" height="44" fill="#151515"/>
<rect x="858.7" y="533.7" width="54.3" height="6" fill="#2e2e2e"/>
<!-- insert -->
<rect x="829.8" y="544.2" width="30" height="5.3" fill="#a6aab0"/>
<rect x="829.8" y="544.2" width="9.6" height="13.2" rx="1.5" fill="#c4c8cc"/>
<rect x="858.7" y="539" width="54.3" height="10.5" fill="#dde0e4"/>
<rect x="865.7" y="549.5" width="6.2" height="8" fill="#b0b4b8"/>
<rect x="894.6" y="549.5" width="6.2" height="8" fill="#b0b4b8"/>
<rect x="868" y="557" width="1.4" height="5" fill="#777"/>
<rect x="897" y="557" width="1.4" height="5" fill="#777"/>
<rect x="913" y="544.2" width="27.2" height="4.6" fill="#9a9ea4"/>
<rect x="927" y="544.2" width="13.2" height="41" fill="#8c9096"/>
<rect x="931.5" y="548.8" width="8.7" height="35" fill="#dfe2e6"/>
<rect x="927" y="556" width="4.5" height="7" fill="#1c1c1c"/>
<rect x="927" y="570" width="4.5" height="7" fill="#2c2c2c"/>
<!-- blade -->
<rect x="852.6" y="574.4" width="63" height="9.6" fill="#000"/>
<rect x="852.6" y="584" width="63.1" height="5.3" fill="#2e2c1c"/>
<rect x="860.5" y="585.8" width="48.2" height="1.6" fill="#9c9c8c"/>
</g>

</svg>

</body>
</html>
